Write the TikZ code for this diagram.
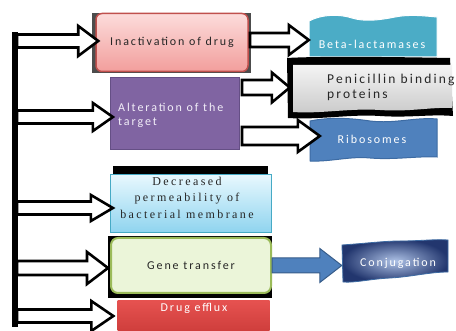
\documentclass[tikz,border=0pt]{standalone}
\usepackage{fontspec}
\setmainfont{Carlito}[LetterSpace=16]
\newfontfamily\serifx{Liberation Serif}[LetterSpace=20]
\usetikzlibrary{calc}
\definecolor{inkR}{HTML}{C0504D}
\definecolor{pinkT}{HTML}{FCDCDB}
\definecolor{pinkB}{HTML}{F29E9C}
\definecolor{purp}{HTML}{8064A2}
\definecolor{purpD}{HTML}{654F85}
\definecolor{purpT}{HTML}{F2EEF8}
\definecolor{betaC}{HTML}{4BACC6}
\definecolor{grayT}{HTML}{F4F4F4}
\definecolor{grayB}{HTML}{CACACA}
\definecolor{riboC}{HTML}{4F81BD}
\definecolor{riboD}{HTML}{3D6BA3}
\definecolor{decT}{HTML}{E8F8FE}
\definecolor{decB}{HTML}{8FD4EF}
\definecolor{decD}{HTML}{46AAC5}
\definecolor{geneF}{HTML}{EBF5D9}
\definecolor{geneD}{HTML}{9BBB59}
\definecolor{efT}{HTML}{E65250}
\definecolor{efB}{HTML}{CC3C3A}
\definecolor{conjI}{HTML}{AEC2E6}
\definecolor{conjO}{HTML}{22366E}
\definecolor{arrB}{HTML}{4F81BD}
\definecolor{arrD}{HTML}{385D8A}
\tikzset{
  barrow/.style={draw=black, line width=2.6pt, fill=white, line join=miter},
  blarrow/.style={draw=arrD, line width=1pt, fill=arrB, line join=miter},
  txt/.style={font=\fontsize{12}{14}\selectfont, inner sep=0pt},
}
% #1 style, #2 start coord, #3 tip coord, #4 shaft half, #5 head half, #6 head length
\newcommand\blockarr[6]{%
  \draw[#1] let \p1=(#2), \p2=(#3) in
    (\x1,\y1+#4) -- (\x2-#6,\y1+#4) -- (\x2-#6,\y1+#5) -- (\x2,\y1)
    -- (\x2-#6,\y1-#5) -- (\x2-#6,\y1-#4) -- (\x1,\y1-#4) -- cycle;}
\begin{document}
\begin{tikzpicture}[x=1pt,y=-1pt]
\useasboundingbox[fill=white] (0,0) rectangle (456,331);

% left bar
\fill[black] (12,32) rectangle (18,327);

% ---------- Inactivation of drug
\fill[black!70] (92,13) rectangle (251,73);
\node[draw=inkR, line width=1.5pt, rounded corners=6pt, top color=pinkT, bottom color=pinkB,
      minimum width=152pt, minimum height=58pt, txt, text=black!85] (inact) at (172,42.5) {Inactivation of drug};

% ---------- Alteration of the target
\node[draw=purpD, line width=1.2pt, fill=purp, minimum width=129pt, minimum height=72pt] (alter) at (175,113.5) {};
\node[txt, text=purpT, align=left, anchor=west] (altert) at (118,115) {Alteration of the\\target};

% ---------- Beta-lactamases (wavy)
\draw[white, line width=1pt, fill=betaC] (309,21) .. controls (322,14) and (340,14) .. (352,18)
  .. controls (365,22) and (380,20) .. (395,17) .. controls (410,14) and (425,16) .. (437,17)
  -- (437,57) -- (309,57) -- cycle;
\node[minimum width=128pt, minimum height=40pt, inner sep=0pt] (beta) at (373,37) {};
\node[txt, text=white] (betat) at (372,44) {Beta-lactamases};

% ---------- Penicillin binding proteins
\fill[black] (287,58) .. controls (320,56) and (400,57) .. (450,58) -- (453,116)
  .. controls (430,114) and (410,118) .. (380,116) .. controls (350,114) and (320,120) .. (288,118) -- cycle;
\shade[top color=grayT, bottom color=grayB] (293,65) -- (452,65) -- (452,108)
  .. controls (430,107) and (410,112) .. (380,110) .. controls (350,108) and (320,114) .. (293,112) -- cycle;
\node[minimum width=160pt, minimum height=54pt, inner sep=0pt] (pen) at (370,87) {};
\node[font=\fontsize{13.5}{15.5}\selectfont, inner sep=0pt, text=black!85, align=left, anchor=west] (pent) at (327,87.5) {Penicillin binding\\proteins};

% ---------- Ribosomes
\draw[riboD, line width=1pt, fill=riboC] (310,121) .. controls (330,117) and (350,118) .. (370,121)
  .. controls (395,124) and (415,117) .. (437,119) -- (437,157)
  .. controls (415,156) and (395,160) .. (370,158) .. controls (350,156) and (330,162) .. (310,161) -- cycle;
\node[minimum width=127pt, minimum height=42pt, inner sep=0pt] (ribo) at (373.5,139) {};
\node[txt, text=white] (ribot) at (372,139) {Ribosomes};

% ---------- Decreased permeability
\fill[black] (113,166) rectangle (268,180);
\node[draw=decD, line width=1.2pt, top color=decT, bottom color=decB,
      minimum width=161pt, minimum height=58pt] (decr) at (191,203.5) {};
\node[font=\serifx\fontsize{12}{16.5}\selectfont, inner sep=0pt, align=center, text=black!85] (decrt) at (187,197.5)
  {Decreased\\permeability of\\bacterial membrane};

% ---------- Gene transfer
\fill[black] (108,236) rectangle (272,298);
\node[draw=geneD, line width=2pt, rounded corners=7pt, fill=geneF,
      minimum width=160pt, minimum height=55pt, txt, text=black!85] (gene) at (191,265.5) {Gene transfer};

% ---------- Drug efflux
\node[top color=efT, bottom color=efB, minimum width=152pt, minimum height=34pt, anchor=north] (efflux) at (193.5,300) {};
\node[txt, text=white] (effluxt) at (194,308) {Drug efflux};

% ---------- Conjugation
\shade[inner color=conjI, outer color=conjO, draw=riboD, line width=0.8pt]
  (342,245) .. controls (370,243) and (385,241) .. (400,241) .. controls (420,241) and (435,239) .. (448,240)
  -- (448,272) .. controls (430,272) and (410,277) .. (390,278) .. controls (370,279) and (355,283) .. (343,282) -- cycle;
\node[minimum width=106pt, minimum height=42pt, inner sep=0pt] (conj) at (395,262) {};
\node[txt, text=white] (conjt) at (398,263) {Conjugation};

% ---------- arrows from the left bar
\coordinate (s1) at (17,41);
\coordinate (s2) at (17,117);
\coordinate (s3) at (17,208);
\coordinate (s4) at (17,268);
\coordinate (s5) at (17,316);
\blockarr{barrow}{s1}{$(inact.west)+(3,0)$}{6.5}{15}{20}
\blockarr{barrow}{s2}{$(alter.west)+(3,0)$}{6.5}{14}{20}
\blockarr{barrow}{s3}{$(decr.west)+(3,0)$}{6.5}{13}{22}
\blockarr{barrow}{s4}{$(gene.west)+(-2,0)$}{7}{16}{21}
\blockarr{barrow}{s5}{$(efflux.west)+(-4,0)$}{6.5}{15}{22}

% ---------- arrows from the boxes
\coordinate (i1) at (250,40);
\coordinate (a1) at (242,87.5);
\coordinate (a2) at (242,136);
\coordinate (g1) at (272,265.5);
\blockarr{barrow}{i1}{beta.west}{7}{15}{20}
\blockarr{barrow}{a1}{pen.west}{7.5}{15}{18}
\blockarr{barrow}{a2}{$(ribo.west)+(10,0)$}{9}{16}{22}
\blockarr{blarrow}{g1}{conj.west}{7.5}{17}{22}
\end{tikzpicture}
\end{document}
